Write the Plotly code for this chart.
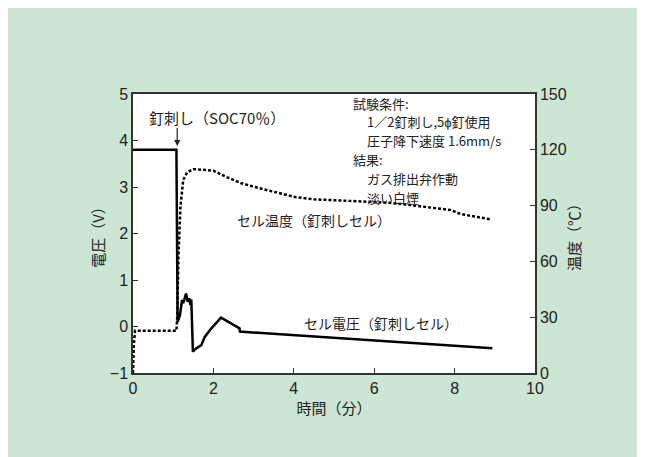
import plotly.graph_objects as go

# Cell voltage (V) vs time (min)
v_time = [0, 1.08, 1.11, 1.17, 1.22, 1.25, 1.32, 1.36, 1.40, 1.43, 1.45, 1.49, 1.57, 1.70, 1.78, 1.95, 2.19, 2.65, 2.66, 8.94]
v_vals = [3.8, 3.8, 0.10, 0.25, 0.57, 0.50, 0.71, 0.53, 0.61, 0.46, 0.58, -0.54, -0.47, -0.40, -0.23, -0.04, 0.19, -0.04, -0.11, -0.47]

# Cell temperature (°C) vs time (min)
t_time = [0, 0.02, 0.05, 1.08, 1.10, 1.13, 1.18, 1.25, 1.35, 1.5, 1.6, 1.8, 2.0, 2.3, 2.7, 3.15, 3.6, 4.06, 4.5, 5.0, 5.8, 6.4, 6.9, 7.4, 7.9, 8.15, 8.5, 8.9]
t_vals = [0, 15, 22.7, 22.7, 30, 62.5, 89.5, 103.8, 108, 109.5, 109.5, 109, 108.8, 105.6, 102, 99.3, 97, 94.5, 93.4, 93, 92.1, 91.5, 90.3, 89, 87.6, 85.5, 84, 82.6]

x_ticks = [0, 2, 4, 6, 8, 10]
v_ticks = [-1, 0, 1, 2, 3, 4, 5]
temp_ticks = [0, 30, 60, 90, 120, 150]

cond_lines = ["試験条件:", "1／2釘刺し,5ϕ釘使用", "圧子降下速度 1.6mm/s", "結果:", "ガス排出弁作動", "淡い白煙"]
cond_x = [5.42, 5.77, 5.77, 5.42, 5.77, 5.77]
cond_y = [4.806, 4.400, 3.993, 3.587, 3.180, 2.774]

FONT = "Liberation Sans, Noto Sans CJK JP, sans-serif"
JP = "Noto Sans CJK JP, sans-serif"
BG = "#cde5d3"
TXT = "#222"

fig = go.Figure()
fig.add_trace(go.Scatter(x=t_time, y=t_vals, yaxis="y2", mode="lines",
                         line=dict(color="black", width=2.5, dash="3px,2px"),
                         showlegend=False, hoverinfo="skip"))
fig.add_trace(go.Scatter(x=v_time, y=v_vals, mode="lines",
                         line=dict(color="black", width=2.5),
                         showlegend=False, hoverinfo="skip"))

axis_common = dict(ticks="inside", ticklen=5, tickwidth=1, tickcolor="#333",
                   showgrid=False, zeroline=False, showline=True,
                   linecolor="#333", linewidth=1.5,
                   tickfont=dict(family=FONT, size=16, color=TXT))

fig.update_layout(
    width=645, height=457,
    paper_bgcolor=BG, plot_bgcolor="white",
    margin=dict(l=125, r=118, t=86, b=92),
    xaxis=dict(range=[0, 10], tickvals=x_ticks, mirror=True,
               title=dict(text="時間（分）", font=dict(family=JP, size=15, color=TXT), standoff=4),
               **axis_common),
    yaxis=dict(range=[-1, 5], tickvals=v_ticks,
               title=dict(text="電圧（V）", font=dict(family=JP, size=15, color=TXT), standoff=2),
               **axis_common),
    yaxis2=dict(range=[0, 150], tickvals=temp_ticks, overlaying="y", side="right",
                title=dict(text="温度（℃）", font=dict(family=JP, size=15, color=TXT), standoff=4),
                **axis_common),
)

fig.add_annotation(x=1.1, y=3.88, ax=1.1, ay=4.3, xref="x", yref="y", axref="x", ayref="y",
                   text="", showarrow=True, arrowhead=2, arrowsize=1, arrowwidth=1.2,
                   arrowcolor=TXT, standoff=0)
fig.add_annotation(x=0.35, y=4.5, xref="x", yref="y", xanchor="left", showarrow=False,
                   text="釘刺し（SOC70％）", font=dict(family=JP, size=15, color=TXT))
fig.add_annotation(x=2.53, y=2.29, xref="x", yref="y", xanchor="left", showarrow=False,
                   text="セル温度（釘刺しセル）", font=dict(family=JP, size=14, color=TXT))
fig.add_annotation(x=4.2, y=0.075, xref="x", yref="y", xanchor="left", showarrow=False,
                   text="セル電圧（釘刺しセル）", font=dict(family=JP, size=14, color=TXT))
for txt, cx, cy in zip(cond_lines, cond_x, cond_y):
    fig.add_annotation(x=cx, y=cy, xref="x", yref="y", xanchor="left", yanchor="middle",
                       showarrow=False, text=txt, font=dict(family=JP, size=13, color=TXT))

fig.write_html("out.html")
